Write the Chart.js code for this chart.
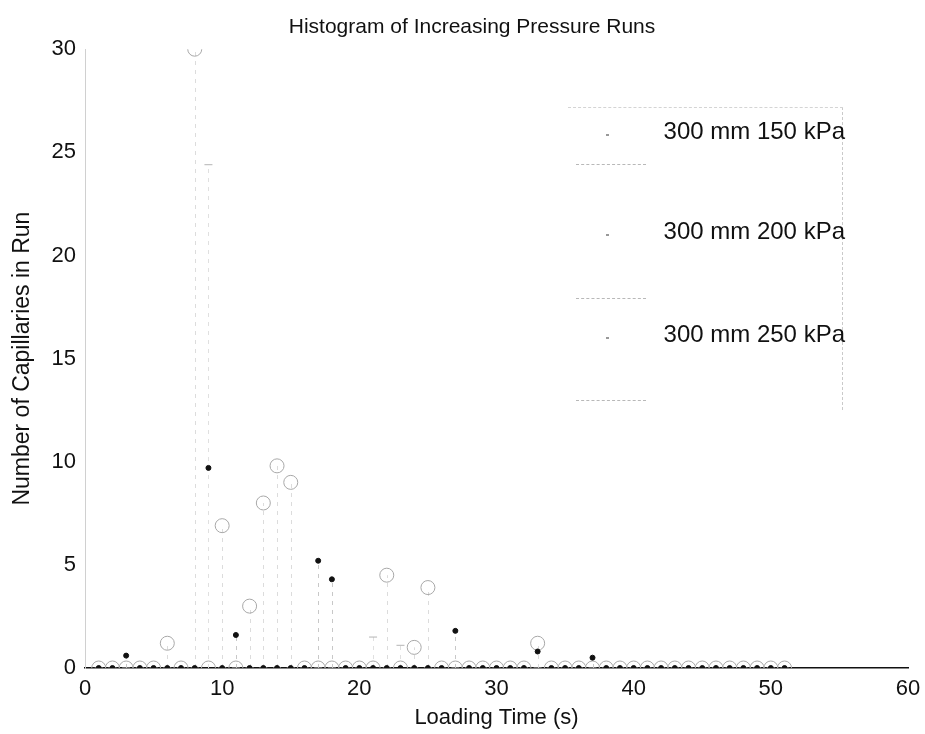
<!DOCTYPE html>
<html>
<head>
<meta charset="utf-8">
<script src="https://cdn.jsdelivr.net/npm/chart.js@4"></script>
<style>
  body { margin: 0; background: #fff; }
  #wrap { position: relative; width: 925px; height: 734px; }
  #legenda {
    position: absolute; left: 568px; top: 107px; width: 274px; height: 302px;
    border-top: 1px dashed #d4d4d4; border-right: 1px dashed #cacaca;
    font-family: "Liberation Sans", Arial, sans-serif; font-size: 24px; line-height: 28px; color: #111;
  }
  #legenda .item { position: absolute; right: -3px; white-space: nowrap; }
  #legenda .amostra { position: absolute; left: 8px; width: 70px; border-top: 1px dashed #b8b8b8; }
  #legenda .marca { position: absolute; left: 38px; width: 3px; height: 2px; background: #999; }
</style>
</head>
<body>
<div id="wrap">
  <canvas id="grafico" width="925" height="734"></canvas>
  <div id="legenda"></div>
</div>
<script>
// tempo de carregamento (s), uma barra por segundo
const tempos = [1, 2, 3, 4, 5, 6, 7, 8, 9, 10, 11, 12, 13, 14, 15, 16, 17, 18, 19, 20,
  21, 22, 23, 24, 25, 26, 27, 28, 29, 30, 31, 32, 33, 34, 35, 36, 37, 38, 39, 40,
  41, 42, 43, 44, 45, 46, 47, 48, 49, 50, 51];

// capilares por corrida (aproximados)
const kpa150 = [0, 0, 0.6, 0, 0, 0, 0, 0, 9.7, 0, 1.6, 0, 0, 0, 0, 0, 5.2, 4.3, 0, 0,
  0, 0, 0, 0, 0, 0, 1.8, 0, 0, 0, 0, 0, 0.8, 0, 0, 0, 0.5, 0, 0, 0,
  0, 0, 0, 0, 0, 0, 0, 0, 0, 0, 0];
const kpa200 = [0, 0, 0, 0, 0, 1.2, 0, 30, 0, 6.9, 0, 3, 8, 9.8, 9, 0, 0, 0, 0, 0,
  0, 4.5, 0, 1, 3.9, 0, 0, 0, 0, 0, 0, 0, 1.2, 0, 0, 0, 0, 0, 0, 0,
  0, 0, 0, 0, 0, 0, 0, 0, 0, 0, 0];
const kpa250 = [0, 0, 0, 0, 0, 0, 0, 0, 24.4, 0, 0, 0, 0, 0, 0, 0, 0, 0, 0, 0,
  1.5, 0, 1.1, 0, 0, 0, 0, 0, 0, 0, 0, 0, 0, 0, 0, 0, 0, 0, 0, 0,
  0, 0, 0, 0, 0, 0, 0, 0, 0, 0, 0];

const rotulos = ["300 mm 150 kPa", "300 mm 200 kPa", "300 mm 250 kPa"];
const ticksX = [0, 10, 20, 30, 40, 50, 60];
const ticksY = [0, 5, 10, 15, 20, 25, 30];

const fonte = "'Liberation Sans', Arial, sans-serif";

function pontos(valores) {
  return tempos.map((t, i) => ({ x: t, y: valores[i] }));
}

// hastes tracejadas (stem) do zero até cada ponto
const hastes = {
  id: "hastes",
  afterLayout(chart) {
    // título um pouco deslocado para a direita, como no original
    if (chart.titleBlock) chart.titleBlock.left += 36;
  },
  beforeDatasetsDraw(chart) {
    const ctx = chart.ctx;
    const x = chart.scales.x;
    const y = chart.scales.y;
    const y0 = y.getPixelForValue(0);
    ctx.save();
    chart.data.datasets.forEach((ds) => {
      ctx.strokeStyle = ds.corHaste;
      ctx.setLineDash([4, 5]);
      ctx.lineWidth = 1;
      ds.data.forEach((p) => {
        if (p.y <= 0) return;
        const px = Math.round(x.getPixelForValue(p.x)) + 0.5;
        ctx.beginPath();
        ctx.moveTo(px, y0);
        ctx.lineTo(px, y.getPixelForValue(p.y));
        ctx.stroke();
      });
    });
    ctx.restore();
  },
};

new Chart(document.getElementById("grafico"), {
  type: "scatter",
  data: {
    datasets: [
      {
        label: rotulos[0],
        data: pontos(kpa150),
        pointStyle: "circle",
        pointRadius: 2.5,
        backgroundColor: "#111",
        borderColor: "#111",
        corHaste: "#c8c8c8",
      },
      {
        label: rotulos[1],
        data: pontos(kpa200),
        pointStyle: "circle",
        pointRadius: 7,
        backgroundColor: "rgba(0,0,0,0)",
        borderColor: "#a8a8a8",
        borderWidth: 1,
        corHaste: "#dcdcdc",
      },
      {
        label: rotulos[2],
        data: pontos(kpa250),
        pointStyle: "line",
        pointRadius: 4,
        borderColor: "#b4b4b4",
        borderWidth: 1,
        corHaste: "#e0e0e0",
      },
    ],
  },
  options: {
    responsive: false,
    animation: false,
    layout: { padding: { left: 0, right: 17, top: 0, bottom: 0 } },
    plugins: {
      legend: { display: false },
      tooltip: { enabled: false },
      title: {
        display: true,
        text: "Histogram of Increasing Pressure Runs",
        color: "#111",
        font: { family: fonte, size: 21, weight: "normal" },
        padding: { top: 15, bottom: 9 },
      },
    },
    scales: {
      x: {
        type: "linear",
        min: 0,
        max: 60,
        afterBuildTicks: (s) => { s.ticks = ticksX.map((v) => ({ value: v })); },
        afterFit: (s) => { s.height = 66; s.paddingRight = 0; s.paddingLeft = 0; },
        grid: { display: false, drawTicks: false },
        border: { display: true, color: "#111", width: 1.5 },
        ticks: { color: "#111", padding: 8, font: { family: fonte, size: 22 } },
        title: {
          display: true,
          text: "Loading Time (s)",
          color: "#111",
          font: { family: fonte, size: 22 },
          padding: { top: 0, bottom: 3 },
        },
      },
      y: {
        type: "linear",
        min: 0,
        max: 30,
        afterBuildTicks: (s) => { s.ticks = ticksY.map((v) => ({ value: v })); },
        afterFit: (s) => { s.width = 85; },
        grid: { display: false, drawTicks: false },
        border: { display: true, color: "#d0d0d0", width: 1, dash: [2, 7] },
        ticks: { color: "#111", padding: 9, font: { family: fonte, size: 22 } },
        title: {
          display: true,
          text: "Number of Capillaries in Run",
          color: "#111",
          font: { family: fonte, size: 23 },
          padding: { top: 9, bottom: 0 },
        },
      },
    },
  },
  plugins: [hastes],
});

// legenda desenhada em HTML dentro da área do gráfico
const legenda = document.getElementById("legenda");
const topos = [9, 109, 212];
const linhas = [56, 190, 292];
rotulos.forEach((texto, i) => {
  legenda.insertAdjacentHTML(
    "beforeend",
    `<div class="item" style="top:${topos[i]}px">${texto}</div>
     <div class="marca" style="top:${topos[i] + 17}px"></div>
     <div class="amostra" style="top:${linhas[i]}px"></div>`
  );
});
</script>
</body>
</html>
